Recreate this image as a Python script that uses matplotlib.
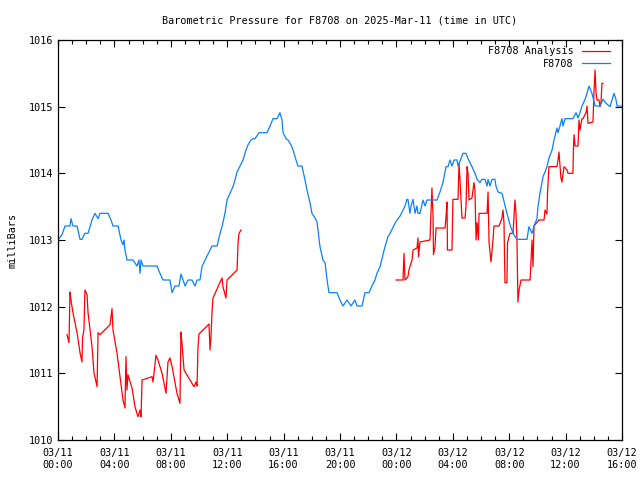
import numpy as np
import pandas as pd
import matplotlib
matplotlib.use('Agg')
import matplotlib.pyplot as plt
import matplotlib.dates as mdates

plt.rcParams['font.family'] = ['DejaVu Sans Mono']

start = pd.Timestamp('2025-03-11 00:00')

# station series: hours since start, pressure (mb)
obs_hours = [0, 0.28, 0.50, 0.85, 0.92, 1.06, 1.35, 1.56, 1.70, 1.91, 2.13, 2.41, 2.62, 2.84, 2.98,
             3.55, 3.76, 3.90, 4.26, 4.47, 4.61, 4.68, 4.75, 4.89, 5.32, 5.60, 5.74, 5.82, 5.89, 6.03,
             7.02, 7.23, 7.45, 7.94, 8.09, 8.30, 8.58, 8.72, 8.87, 9.01, 9.22, 9.50, 9.72, 9.86, 10.07,
             10.21, 10.43, 10.64, 10.92, 11.28, 11.49, 11.63, 11.84, 11.99, 12.20, 12.41, 12.55, 12.70,
             12.91, 13.12, 13.33, 13.48, 13.69, 13.83, 13.97, 14.26, 14.82, 15.04, 15.25, 15.53, 15.74,
             15.89, 15.96, 16.17, 16.31, 16.52, 16.67, 16.88, 17.02, 17.30, 17.52, 17.66, 17.87, 18.01,
             18.23, 18.37, 18.58, 18.79, 18.94, 19.08, 19.22, 19.79, 20.00, 20.21, 20.50, 20.78, 21.06,
             21.21, 21.56, 21.77, 22.06, 22.27, 22.48, 22.62, 22.84, 23.05, 23.19, 23.40, 23.55, 23.83,
             24.04, 24.26, 24.40, 24.61, 24.75, 24.82, 24.96, 25.04, 25.18, 25.32, 25.46, 25.53, 25.67,
             25.89, 26.03, 26.17, 26.88, 27.09, 27.30, 27.52, 27.66, 27.80, 27.94, 28.09, 28.30, 28.37,
             28.58, 28.72, 28.94, 29.08, 29.36, 29.57, 29.72, 29.93, 30.07, 30.28, 30.43, 30.50, 30.64,
             30.78, 30.99, 31.06, 31.21, 31.49, 31.70, 31.84, 32.06, 32.27, 32.55, 33.26, 33.40, 33.62,
             33.76, 33.97, 34.04, 34.18, 34.40, 34.54, 34.68, 34.82, 35.04, 35.18, 35.39, 35.46, 35.60,
             35.74, 35.82, 35.96, 36.52, 36.74, 36.88, 37.02, 37.16, 37.38, 37.52, 37.66, 37.87, 38.09,
             38.44, 38.65, 38.87, 39.15, 39.43, 39.57, 39.65, 40.00]
obs_mb = [1013.00, 1013.08, 1013.21, 1013.21, 1013.32, 1013.21, 1013.21, 1013.01, 1013.01, 1013.10,
          1013.10, 1013.30, 1013.40, 1013.32, 1013.40, 1013.40, 1013.30, 1013.21, 1013.21, 1013.00,
          1012.93, 1013.00, 1012.85, 1012.70, 1012.70, 1012.61, 1012.70, 1012.50, 1012.70, 1012.61,
          1012.61, 1012.50, 1012.40, 1012.40, 1012.21, 1012.31, 1012.31, 1012.49, 1012.40, 1012.31,
          1012.40, 1012.40, 1012.31, 1012.40, 1012.40, 1012.60, 1012.70, 1012.79, 1012.91, 1012.91,
          1013.10, 1013.20, 1013.40, 1013.60, 1013.70, 1013.80, 1013.90, 1014.02, 1014.11, 1014.20,
          1014.35, 1014.43, 1014.50, 1014.52, 1014.52, 1014.61, 1014.61, 1014.71, 1014.82, 1014.82,
          1014.91, 1014.80, 1014.61, 1014.52, 1014.50, 1014.43, 1014.35, 1014.20, 1014.11, 1014.11,
          1013.90, 1013.75, 1013.56, 1013.40, 1013.33, 1013.27, 1012.90, 1012.70, 1012.66, 1012.40,
          1012.21, 1012.21, 1012.10, 1012.01, 1012.10, 1012.01, 1012.10, 1012.01, 1012.01, 1012.21,
          1012.21, 1012.31, 1012.40, 1012.50, 1012.60, 1012.78, 1012.90, 1013.05, 1013.10, 1013.22,
          1013.30, 1013.36, 1013.42, 1013.51, 1013.61, 1013.61, 1013.40, 1013.51, 1013.61, 1013.40,
          1013.51, 1013.40, 1013.40, 1013.60, 1013.51, 1013.60, 1013.60, 1013.72, 1013.86, 1014.10,
          1014.10, 1014.20, 1014.11, 1014.20, 1014.20, 1014.11, 1014.22, 1014.30, 1014.30, 1014.22,
          1014.10, 1014.00, 1013.91, 1013.86, 1013.91, 1013.91, 1013.81, 1013.91, 1013.81, 1013.91,
          1013.91, 1013.81, 1013.72, 1013.70, 1013.52, 1013.40, 1013.23, 1013.10, 1013.01, 1013.01,
          1013.20, 1013.10, 1013.21, 1013.32, 1013.50, 1013.70, 1013.95, 1014.02, 1014.10, 1014.23,
          1014.35, 1014.50, 1014.68, 1014.61, 1014.71, 1014.82, 1014.71, 1014.82, 1014.82, 1014.91,
          1014.83, 1014.91, 1015.01, 1015.11, 1015.20, 1015.31, 1015.20, 1015.01, 1015.01, 1015.11,
          1015.05, 1015.00, 1015.20, 1015.11, 1015.01, 1015.01]

# analysis series, two pieces (gap overnight)
ana1_hours = [0.64, 0.78, 0.85, 0.92, 1.06, 1.35, 1.56, 1.70, 1.74, 1.84, 1.91, 2.06, 2.13, 2.41, 2.55,
              2.77, 2.84, 2.98, 3.69, 3.83, 3.90, 4.18, 4.40, 4.61, 4.75, 4.82, 4.89, 4.96, 5.25, 5.46,
              5.67, 5.82, 5.89, 5.96, 6.67, 6.74, 6.95, 7.09, 7.38, 7.66, 7.80, 7.94, 8.09, 8.44, 8.65,
              8.72, 8.79, 8.94, 9.50, 9.65, 9.79, 9.86, 9.93, 10.00, 10.71, 10.78, 10.85, 10.92, 10.99,
              11.63, 11.70, 11.91, 11.99, 12.70, 12.77, 12.84, 12.98]
ana1_mb = [1011.58, 1011.46, 1012.22, 1012.10, 1011.91, 1011.61, 1011.31, 1011.17, 1011.53, 1011.65,
           1012.25, 1012.18, 1011.91, 1011.40, 1011.01, 1010.80, 1011.61, 1011.58, 1011.73, 1011.97,
           1011.65, 1011.31, 1010.95, 1010.60, 1010.48, 1011.25, 1010.75, 1010.98, 1010.78, 1010.50,
           1010.35, 1010.45, 1010.35, 1010.90, 1010.95, 1010.87, 1011.27, 1011.20, 1011.00, 1010.70,
           1011.17, 1011.23, 1011.10, 1010.70, 1010.55, 1011.62, 1011.46, 1011.05, 1010.85, 1010.80,
           1010.87, 1010.81, 1011.40, 1011.59, 1011.74, 1011.35, 1011.55, 1011.91, 1012.13, 1012.43,
           1012.30, 1012.13, 1012.40, 1012.55, 1012.96, 1013.10, 1013.15]
ana2_hours = [23.97, 24.47, 24.54, 24.61, 24.82, 24.89, 25.11, 25.18, 25.46, 25.53, 25.57, 25.67, 26.38,
              26.45, 26.52, 26.60, 26.63, 26.74, 26.81, 27.45, 27.52, 27.59, 27.62, 27.94, 28.01, 28.37,
              28.44, 28.51, 28.65, 28.87, 28.94, 29.01, 29.08, 29.15, 29.36, 29.50, 29.57, 29.65, 29.72,
              29.82, 29.86, 30.43, 30.50, 30.57, 30.71, 30.85, 30.92, 31.28, 31.49, 31.56, 31.63, 31.70,
              31.84, 31.88, 32.06, 32.27, 32.34, 32.41, 32.48, 32.55, 32.62, 32.70, 32.84, 33.48, 33.62,
              33.69, 33.76, 34.11, 34.47, 34.54, 34.68, 34.72, 34.82, 35.39, 35.46, 35.53, 35.67, 35.74,
              35.89, 36.10, 36.17, 36.52, 36.56, 36.60, 36.67, 36.88, 36.95, 37.02, 37.16, 37.23, 37.45,
              37.52, 37.59, 37.94, 38.01, 38.09, 38.16, 38.23, 38.37, 38.44, 38.51, 38.58, 38.65]
ana2_mb = [1012.40, 1012.40, 1012.80, 1012.40, 1012.45, 1012.55, 1012.70, 1012.85, 1012.88, 1013.03,
           1012.75, 1012.97, 1013.00, 1013.38, 1013.78, 1013.35, 1012.78, 1012.90, 1013.18, 1013.18,
           1013.35, 1013.57, 1012.85, 1012.85, 1013.61, 1013.61, 1014.15, 1013.90, 1013.33, 1013.33,
           1013.52, 1014.10, 1014.00, 1013.60, 1013.63, 1013.86, 1013.75, 1013.00, 1013.26, 1013.00,
           1013.40, 1013.40, 1013.72, 1012.96, 1012.67, 1013.00, 1013.21, 1013.21, 1013.33, 1013.45,
           1013.26, 1012.36, 1012.36, 1012.96, 1013.10, 1013.10, 1013.35, 1013.60, 1013.40, 1013.00,
           1012.07, 1012.25, 1012.40, 1012.40, 1013.00, 1012.60, 1013.21, 1013.30, 1013.30, 1013.45,
           1013.39, 1013.72, 1014.10, 1014.10, 1014.20, 1014.32, 1013.93, 1013.87, 1014.10, 1014.05,
           1014.00, 1014.00, 1014.40, 1014.58, 1014.41, 1014.41, 1014.80, 1014.65, 1014.82, 1014.82,
           1014.91, 1015.01, 1014.75, 1014.77, 1015.20, 1015.55, 1015.20, 1015.10, 1015.10, 1015.00,
           1015.07, 1015.35, 1015.35]

# join analysis pieces with a NaN break
ana_hours = ana1_hours + [18.0] + ana2_hours
ana_mb = ana1_mb + [np.nan] + ana2_mb

obs_t = start + pd.to_timedelta(obs_hours, unit='h')
ana_t = start + pd.to_timedelta(ana_hours, unit='h')

fig = plt.figure(figsize=(6.4, 4.8), dpi=100)
ax = fig.add_axes([58 / 640, 40 / 480, 564 / 640, 400 / 480])

ax.plot(ana_t, ana_mb, color='#ff0000', lw=0.9, label='F8708 Analysis')
ax.plot(obs_t, obs_mb, color='#0a80ff', lw=0.9, label='F8708')

ax.set_xlim(start, start + pd.Timedelta(hours=40))
ax.set_ylim(1010, 1016)
ax.set_yticks(range(1010, 1017))

ax.xaxis.set_major_locator(mdates.HourLocator(interval=4))
ax.xaxis.set_minor_locator(mdates.HourLocator(interval=1))
ax.xaxis.set_major_formatter(mdates.DateFormatter('%m/%d\n%H:%M'))

ax.tick_params(which='both', direction='in', top=True, right=True, labelsize=7.3, width=0.8)
ax.tick_params(which='major', length=5)
ax.tick_params(which='minor', length=3)
ax.tick_params(axis='x', pad=6)
for s in ax.spines.values():
    s.set_linewidth(0.9)

ax.set_title('Barometric Pressure for F8708 on 2025-Mar-11 (time in UTC)', fontsize=7.3, pad=12)
ax.set_ylabel('milliBars', fontsize=7.3, labelpad=8)

ax.legend(loc='upper right', bbox_to_anchor=(0.99, 1.0), frameon=False, markerfirst=False,
          fontsize=7.3, handlelength=2.8, handletextpad=0.8, labelspacing=0.25, borderaxespad=0.2)

fig.savefig('out.png', dpi=100)
